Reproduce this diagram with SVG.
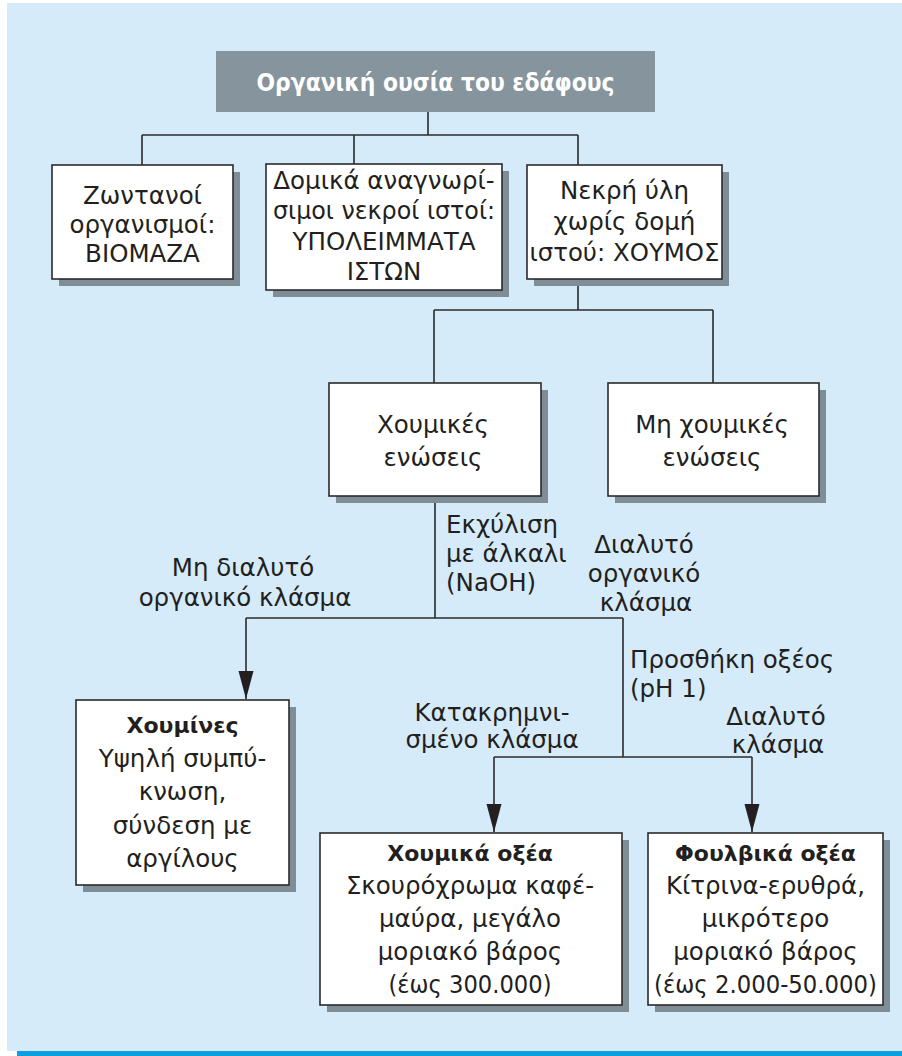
<svg xmlns="http://www.w3.org/2000/svg" width="902" height="1056" viewBox="0 0 902 1056">
<defs>
<marker id="arr" viewBox="0 0 28 16" refX="28" refY="8" markerWidth="28" markerHeight="16" markerUnits="userSpaceOnUse" orient="auto">
<path d="M0,0.5 L28,8 L0,15.5 z" fill="#231f20"/>
</marker>
<style>
.box{fill:#ffffff;stroke:#2b2b2b;stroke-width:1.6}
.sh{fill:#7f8d97}
.t{font-family:"DejaVu Sans","Noto Sans",sans-serif;font-size:24.5px;fill:#231f20;text-anchor:middle}
.b{font-weight:bold;font-size:22px}
.l{text-anchor:start}
.ln{fill:none;stroke:#2b2b2b;stroke-width:1.6}
</style>
</defs>
<rect x="7" y="3" width="895" height="1048" fill="#d5ebfa"/>
<rect x="17" y="1051" width="885" height="5" fill="#0b9fe2"/>

<g id="title">
<rect x="216" y="51" width="439" height="61" fill="#86949d"/>
<text x="435.5" y="91" style="font-family:'DejaVu Sans',sans-serif;font-size:25.5px;font-weight:bold;fill:#ffffff;text-anchor:middle" textLength="358" lengthAdjust="spacingAndGlyphs">Οργανική ουσία του εδάφους</text>
</g>

<g id="connectors">
<path class="ln" d="M428,112 V135 M142,135 H578 M142,135 V165 M354,135 V164 M578,135 V165"/>
<path class="ln" d="M578,279 V310 M434,310 H713 M434,310 V383 M713,310 V383"/>
<path class="ln" d="M435,496 V618 M246,618 H623 M623,618 V757 M494,757 H752"/>
<path class="ln" d="M246,618 V699" marker-end="url(#arr)"/>
<path class="ln" d="M494,757 V832" marker-end="url(#arr)"/>
<path class="ln" d="M752,757 V832" marker-end="url(#arr)"/>
</g>

<g id="n-biomaza">
<rect class="sh" x="59" y="172" width="181" height="114"/>
<rect class="box" x="52" y="165" width="181" height="114"/>
<text class="t" x="142.5" y="204">Ζωντανοί</text>
<text class="t" x="142.5" y="233">οργανισμοί:</text>
<text class="t" x="142.5" y="262">ΒΙΟΜΑΖΑ</text>
</g>

<g id="n-ypoleimmata">
<rect class="sh" x="273" y="171" width="236" height="126"/>
<rect class="box" x="266" y="164" width="236" height="126"/>
<text class="t" x="384" y="189">Δομικά αναγνωρί-</text>
<text class="t" x="384" y="219" textLength="222" lengthAdjust="spacingAndGlyphs">σιμοι νεκροί ιστοί:</text>
<text class="t" x="384" y="250">ΥΠΟΛΕΙΜΜΑΤΑ</text>
<text class="t" x="384" y="280">ΙΣΤΩΝ</text>
</g>

<g id="n-xoumos">
<rect class="sh" x="534" y="172" width="195" height="114"/>
<rect class="box" x="527" y="165" width="195" height="114"/>
<text class="t" x="624.5" y="199">Νεκρή ύλη</text>
<text class="t" x="624.5" y="230">χωρίς δομή</text>
<text class="t" x="624.5" y="261" textLength="190" lengthAdjust="spacingAndGlyphs">ιστού: ΧΟΥΜΟΣ</text>
</g>

<g id="n-xoumikes">
<rect class="sh" x="336" y="390" width="212" height="113"/>
<rect class="box" x="329" y="383" width="212" height="113"/>
<text class="t" x="433" y="433">Χουμικές</text>
<text class="t" x="433" y="466">ενώσεις</text>
</g>

<g id="n-mi-xoumikes">
<rect class="sh" x="615" y="390" width="211" height="113"/>
<rect class="box" x="608" y="383" width="211" height="113"/>
<text class="t" x="712" y="433">Μη χουμικές</text>
<text class="t" x="712" y="466">ενώσεις</text>
</g>

<g id="n-xoumines">
<rect class="sh" x="83" y="707" width="213" height="185"/>
<rect class="box" x="76" y="700" width="213" height="185"/>
<text class="t b" x="182.5" y="733">Χουμίνες</text>
<text class="t" x="182.5" y="767">Υψηλή συμπύ-</text>
<text class="t" x="182.5" y="800">κνωση,</text>
<text class="t" x="182.5" y="834">σύνδεση με</text>
<text class="t" x="182.5" y="867">αργίλους</text>
</g>

<g id="n-xoumika-oxea">
<rect class="sh" x="327" y="840" width="302" height="172"/>
<rect class="box" x="320" y="833" width="302" height="172"/>
<text class="t b" x="470" y="861">Χουμικά οξέα</text>
<text class="t" x="470" y="894">Σκουρόχρωμα καφέ-</text>
<text class="t" x="470" y="927">μαύρα, μεγάλο</text>
<text class="t" x="470" y="960">μοριακό βάρος</text>
<text class="t" x="470" y="993" textLength="163" lengthAdjust="spacingAndGlyphs">(έως 300.000)</text>
</g>

<g id="n-foulvika-oxea">
<rect class="sh" x="655" y="840" width="235" height="172"/>
<rect class="box" x="648" y="833" width="235" height="172"/>
<text class="t b" x="765.5" y="861">Φουλβικά οξέα</text>
<text class="t" x="765.5" y="894">Κίτρινα-ερυθρά,</text>
<text class="t" x="765.5" y="927">μικρότερο</text>
<text class="t" x="765.5" y="960">μοριακό βάρος</text>
<text class="t" x="765.5" y="993" textLength="223" lengthAdjust="spacingAndGlyphs">(έως 2.000-50.000)</text>
</g>

<g id="labels">
<text class="t" x="243" y="576">Μη διαλυτό</text>
<text class="t" x="245" y="606">οργανικό κλάσμα</text>
<text class="t l" x="446" y="533">Εκχύλιση</text>
<text class="t l" x="446" y="562">με άλκαλι</text>
<text class="t l" x="446" y="591">(NaOH)</text>
<text class="t" x="644" y="553">Διαλυτό</text>
<text class="t" x="644" y="582">οργανικό</text>
<text class="t" x="646" y="611">κλάσμα</text>
<text class="t l" x="630" y="668">Προσθήκη οξέος</text>
<text class="t l" x="630" y="697">(pH 1)</text>
<text class="t" x="492" y="721">Κατακρημνι-</text>
<text class="t" x="492" y="748">σμένο κλάσμα</text>
<text class="t" x="776" y="725">Διαλυτό</text>
<text class="t" x="778" y="753">κλάσμα</text>
</g>
</svg>
